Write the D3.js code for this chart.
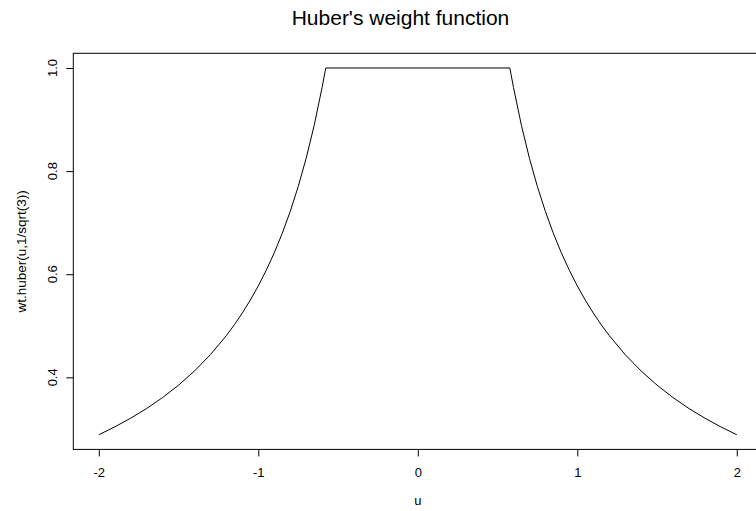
<!DOCTYPE html>
<html>
<head>
<meta charset="utf-8">
<script src="https://cdn.jsdelivr.net/npm/d3@7"></script>
<style>
  body { margin: 0; background: #fff; }
  svg { display: block; font-family: "Liberation Sans", Arial, sans-serif; }
</style>
</head>
<body>
<div id="chart"></div>
<script>
// values: wt.huber(u, 1/sqrt(3))
const uValues = [-2.0, -1.9, -1.8, -1.7, -1.6, -1.5, -1.4, -1.3, -1.2, -1.15, -1.1, -1.05,
  -1.0, -0.95, -0.9, -0.85, -0.8, -0.75, -0.7, -0.65, -0.6, -0.577,
  0.577, 0.6, 0.65, 0.7, 0.75, 0.8, 0.85, 0.9, 0.95, 1.0,
  1.05, 1.1, 1.15, 1.2, 1.3, 1.4, 1.5, 1.6, 1.7, 1.8, 1.9, 2.0];
const weights = [0.2887, 0.3039, 0.3208, 0.3396, 0.3608, 0.3849, 0.4124, 0.4441, 0.4811, 0.5020, 0.5249, 0.5499,
  0.5774, 0.6077, 0.6415, 0.6792, 0.7217, 0.7698, 0.8248, 0.8882, 0.9623, 1.0,
  1.0, 0.9623, 0.8882, 0.8248, 0.7698, 0.7217, 0.6792, 0.6415, 0.6077, 0.5774,
  0.5499, 0.5249, 0.5020, 0.4811, 0.4441, 0.4124, 0.3849, 0.3608, 0.3396, 0.3208, 0.3039, 0.2887];
const xTicks = [-2, -1, 0, 1, 2];
const xTickLabels = ["-2", "-1", "0", "1", "2"];
const yTicks = [0.4, 0.6, 0.8, 1.0];
const yTickLabels = ["0.4", "0.6", "0.8", "1.0"];

const width = 756, height = 511;
// plot region (right edge runs past the window, as in the reference)
const plot = {left: 73.3, right: 762.3, top: 53.3, bottom: 449.4};

const data = uValues.map((u, i) => ({u: u, w: weights[i]}));

// R style 4% expansion of the data range
const xr = d3.extent(uValues), yr = d3.extent(weights);
const xPad = (xr[1] - xr[0]) * 0.04, yPad = (yr[1] - yr[0]) * 0.04;

const x = d3.scaleLinear()
  .domain([xr[0] - xPad, xr[1] + xPad])
  .range([plot.left, plot.right]);
const y = d3.scaleLinear()
  .domain([yr[0] - yPad, yr[1] + yPad])
  .range([plot.bottom, plot.top]);

const svg = d3.select("#chart").append("svg")
  .attr("width", width)
  .attr("height", height);

// curve
const line = d3.line()
  .x(d => x(d.u))
  .y(d => y(d.w));

svg.append("path")
  .datum(data)
  .attr("d", line)
  .attr("fill", "none")
  .attr("stroke", "#000")
  .attr("stroke-width", 1);

// box
svg.append("rect")
  .attr("x", plot.left)
  .attr("y", plot.top)
  .attr("width", plot.right - plot.left)
  .attr("height", plot.bottom - plot.top)
  .attr("fill", "none")
  .attr("stroke", "#000")
  .attr("stroke-width", 1);

// x axis
const xAxis = svg.append("g")
  .attr("transform", `translate(0,${plot.bottom})`)
  .call(d3.axisBottom(x).tickValues(xTicks).tickSize(7).tickPadding(11)
    .tickFormat((d, i) => xTickLabels[i]));
xAxis.select(".domain").remove();
xAxis.selectAll("text")
  .attr("font-size", 13)
  .attr("font-family", "Liberation Sans, Arial, sans-serif")
  .attr("fill", "#000");

// y axis
const yAxis = svg.append("g")
  .attr("transform", `translate(${plot.left},0)`)
  .call(d3.axisLeft(y).tickValues(yTicks).tickSize(7).tickFormat(""));
yAxis.select(".domain").remove();

svg.append("g").selectAll("text")
  .data(yTicks)
  .join("text")
    .attr("transform", (d, i) => `translate(56.5,${y(d)}) rotate(-90)`)
    .attr("text-anchor", "middle")
    .attr("font-size", 13)
    .attr("fill", "#000")
    .text((d, i) => yTickLabels[i]);

// titles
svg.append("text")
  .attr("x", 400.5)
  .attr("y", 25)
  .attr("text-anchor", "middle")
  .attr("font-size", 21)
  .attr("fill", "#000")
  .text("Huber's weight function");

svg.append("text")
  .attr("x", x(0))
  .attr("y", 505)
  .attr("text-anchor", "middle")
  .attr("font-size", 13)
  .attr("fill", "#000")
  .text("u");

svg.append("text")
  .attr("transform", `translate(26,${(plot.top + plot.bottom) / 2}) rotate(-90)`)
  .attr("text-anchor", "middle")
  .attr("font-size", 13.5)
  .attr("fill", "#000")
  .text("wt.huber(u,1/sqrt(3))");
</script>
</body>
</html>
